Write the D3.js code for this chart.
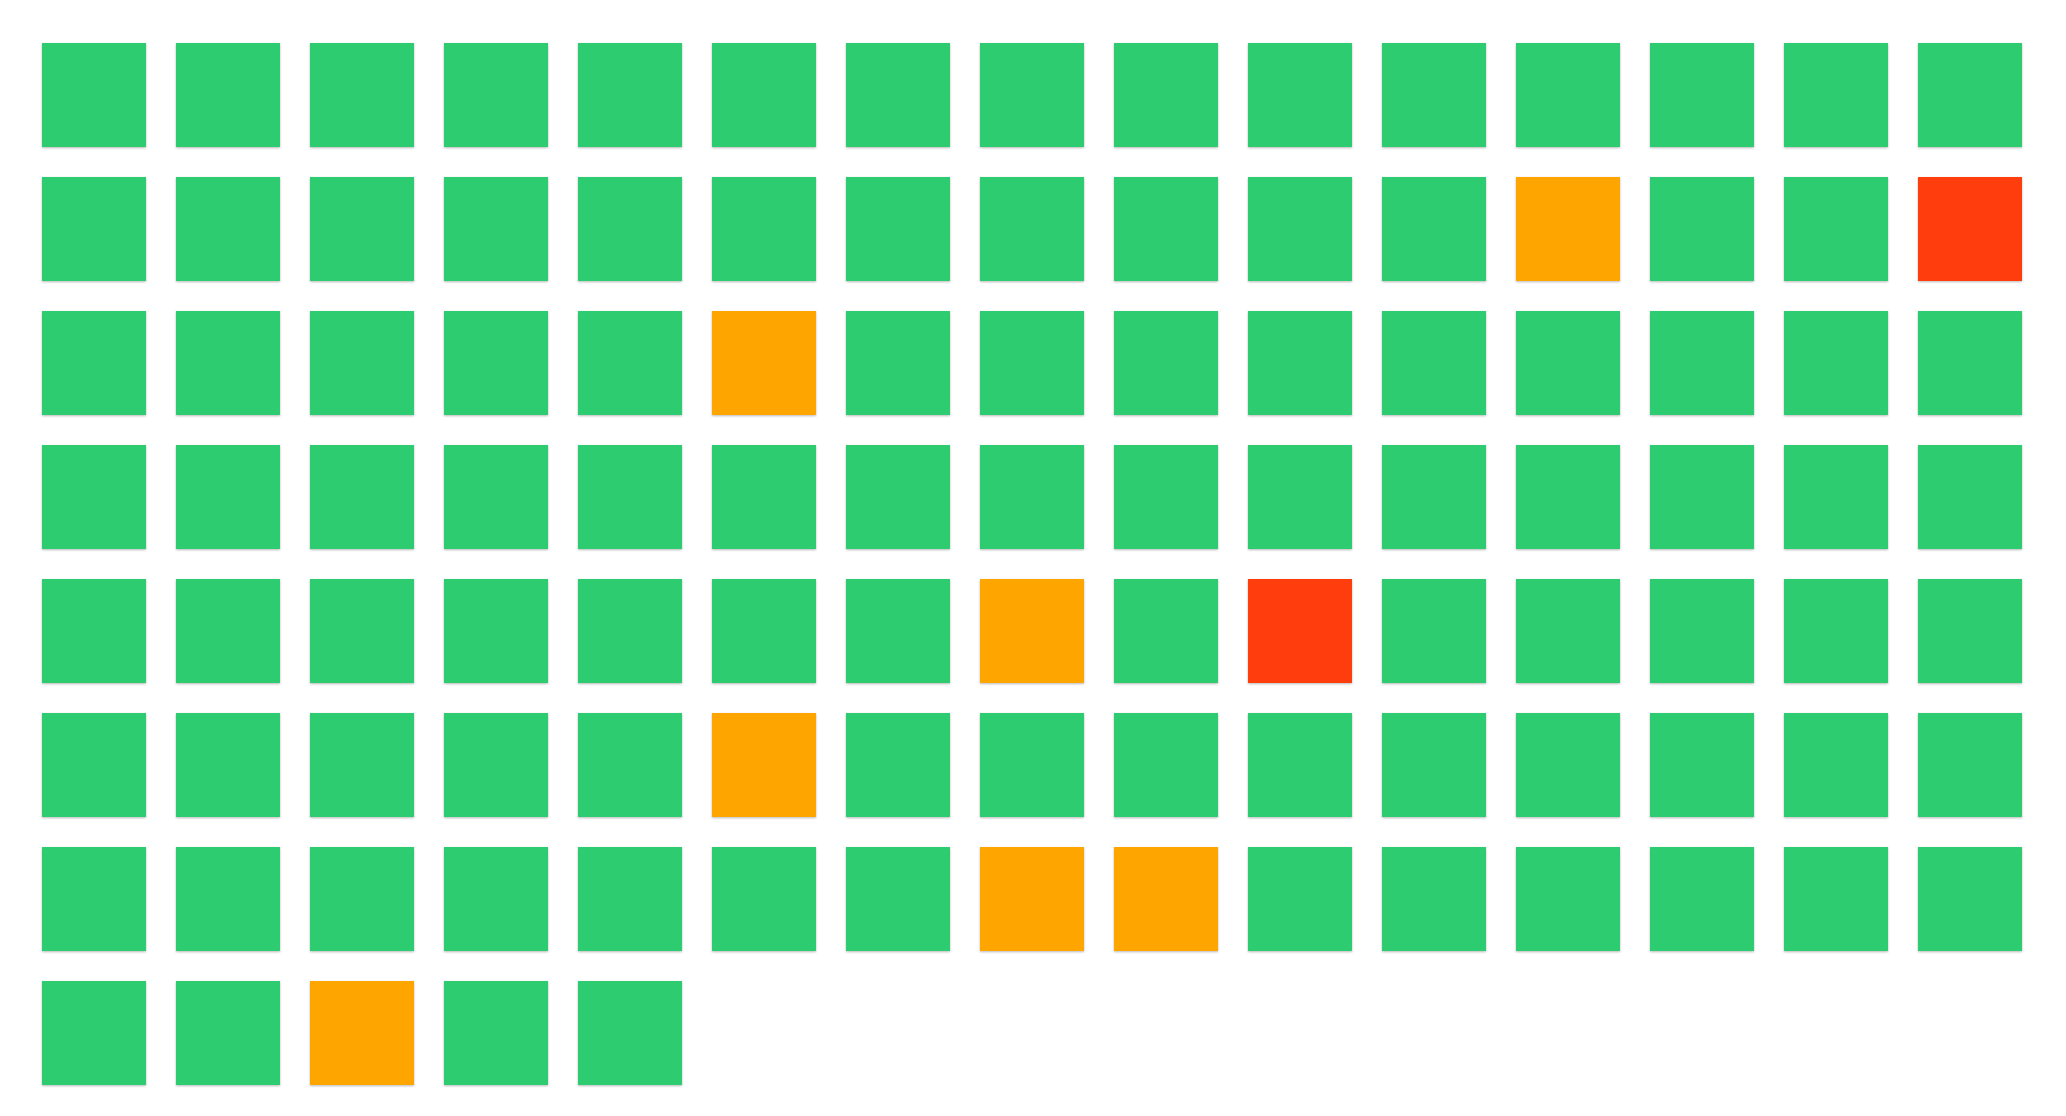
<!DOCTYPE html>
<html>
<head>
<meta charset="utf-8">
<script src="https://cdn.jsdelivr.net/npm/d3@7"></script>
<style>
html,body{margin:0;padding:0;background:#fff;overflow:hidden;}
</style>
</head>
<body>
<svg id="chart" width="2066" height="1116"></svg>
<script>
// Status of each cell, in reading order (15 per row)
const statusRows = [
  ["ok","ok","ok","ok","ok","ok","ok","ok","ok","ok","ok","ok","ok","ok","ok"],
  ["ok","ok","ok","ok","ok","ok","ok","ok","ok","ok","ok","warn","ok","ok","crit"],
  ["ok","ok","ok","ok","ok","warn","ok","ok","ok","ok","ok","ok","ok","ok","ok"],
  ["ok","ok","ok","ok","ok","ok","ok","ok","ok","ok","ok","ok","ok","ok","ok"],
  ["ok","ok","ok","ok","ok","ok","ok","warn","ok","crit","ok","ok","ok","ok","ok"],
  ["ok","ok","ok","ok","ok","warn","ok","ok","ok","ok","ok","ok","ok","ok","ok"],
  ["ok","ok","ok","ok","ok","ok","ok","warn","warn","ok","ok","ok","ok","ok","ok"],
  ["ok","ok","warn","ok","ok"]
];
const statusKeys = ["ok","warn","crit"];
const statusColors = ["#2ecc71","#ffa500","#ff3d0b"];
const nCols = 15;

const cells = [];
statusRows.forEach((row, r) => row.forEach((s, c) => cells.push({r, c, s})));

const svg = d3.select("#chart");
const defs = svg.append("defs");
const f = defs.append("filter").attr("id","sh").attr("x","-10%").attr("y","-10%").attr("width","120%").attr("height","120%");
f.append("feDropShadow").attr("dx",0).attr("dy",1).attr("stdDeviation",1).attr("flood-color","#000").attr("flood-opacity",0.28);

const x = d3.scaleBand().domain(d3.range(nCols)).range([42, 2022]).paddingInner(30/134).paddingOuter(0);
const y = d3.scaleBand().domain(d3.range(statusRows.length)).range([43, 1085]).paddingInner(30/134).paddingOuter(0);
const color = d3.scaleOrdinal().domain(statusKeys).range(statusColors);

svg.append("g").selectAll("rect").data(cells).join("rect")
  .attr("x", d => x(d.c))
  .attr("y", d => y(d.r))
  .attr("width", x.bandwidth())
  .attr("height", y.bandwidth())
  .attr("fill", d => color(d.s))
  .attr("filter", "url(#sh)");
</script>
</body>
</html>
